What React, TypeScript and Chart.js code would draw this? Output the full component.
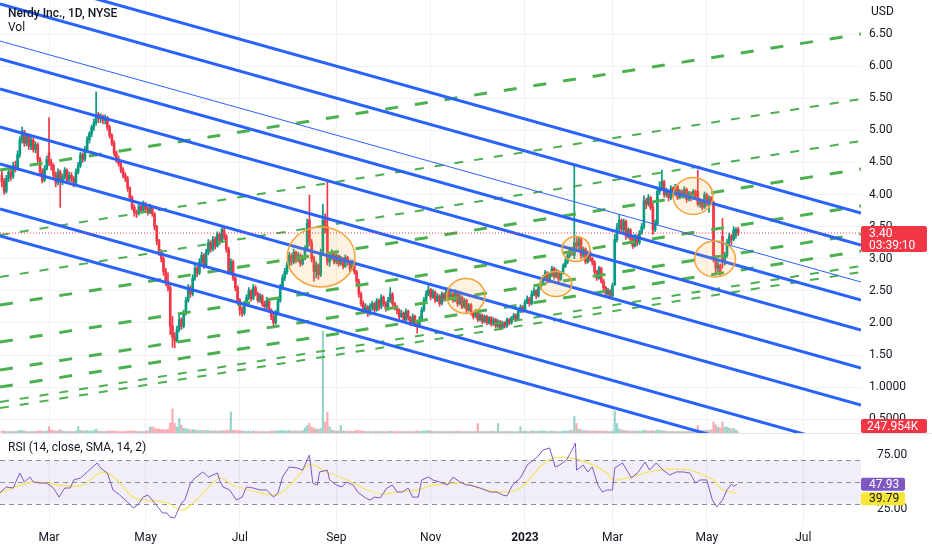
import React, { useEffect, useRef } from "react";
import { Chart, registerables } from "chart.js";

Chart.register(...registerables);

const FONT = "Roboto, 'Liberation Sans', Arial, sans-serif";
const UP = "#089981";
const DOWN = "#f23645";
const BLUE = "#2962ff";
const GREEN = "#4caf50";
const TEXT = "#131722";

// Daily candles, one named array per month: [open, high, low, close, volume (millions)]
const janFeb22 = [
  [4.30,4.38,4.12,4.20,0.4],[4.20,4.25,4.00,4.05,0.4],[4.05,4.30,4.02,4.25,0.3],[4.25,4.42,4.20,4.35,0.3],
  [4.35,4.40,4.22,4.28,0.3],[4.28,4.50,4.25,4.45,0.3],[4.45,4.52,4.35,4.40,0.3],[4.40,4.68,4.38,4.62,0.4],
  [4.62,4.90,4.58,4.85,0.5],[4.85,5.05,4.80,4.98,0.5],[4.98,5.00,4.75,4.80,0.4],[4.80,4.95,4.76,4.92,0.3],
  [4.92,4.94,4.70,4.75,0.3],[4.75,4.90,4.70,4.85,0.3],[4.85,4.88,4.66,4.70,0.3],[4.70,4.82,4.65,4.78,0.3],
  [4.78,4.80,4.50,4.55,0.4],[4.55,4.58,4.30,4.35,0.4],[4.35,4.40,4.18,4.22,0.4],[4.22,4.45,4.20,4.40,0.3],
  [4.40,4.60,4.38,4.55,0.4],
];
const mar22 = [
  [4.65,5.20,4.45,4.50,1.3],[4.50,4.55,4.38,4.45,0.6],[4.45,4.48,4.25,4.30,0.5],[4.30,4.35,4.12,4.18,0.4],
  [4.18,4.40,4.15,4.35,0.4],[4.35,4.38,3.80,4.20,0.7],[4.20,4.32,4.15,4.28,0.4],[4.28,4.42,4.24,4.38,0.3],
  [4.38,4.40,4.18,4.22,0.3],[4.22,4.35,4.18,4.30,0.3],[4.30,4.34,4.20,4.25,0.3],[4.25,4.28,4.12,4.18,0.3],
  [4.18,4.40,4.16,4.35,0.4],[4.35,4.50,4.32,4.45,1.3],[4.45,4.66,4.42,4.62,0.5],[4.62,4.65,4.50,4.55,0.4],
  [4.55,4.75,4.52,4.70,0.4],[4.70,4.90,4.68,4.85,0.5],[4.85,4.98,4.80,4.95,0.4],[4.95,5.08,4.90,5.05,0.4],
  [5.05,5.18,5.00,5.12,0.5],[5.12,5.60,5.08,5.25,0.8],[5.25,5.28,5.12,5.18,0.4],
];
const apr22 = [
  [5.18,5.26,5.12,5.22,0.3],[5.22,5.24,5.10,5.15,0.3],[5.15,5.24,5.10,5.20,0.3],[5.20,5.22,5.00,5.05,0.4],
  [5.05,5.08,4.88,4.92,0.4],[4.92,4.95,4.76,4.80,0.4],[4.80,4.84,4.60,4.65,0.4],[4.65,4.68,4.50,4.55,0.3],
  [4.55,4.60,4.44,4.48,0.3],[4.48,4.52,4.34,4.38,0.3],[4.38,4.42,4.26,4.30,0.3],[4.30,4.34,4.20,4.25,0.3],
  [4.25,4.28,4.05,4.10,0.4],[4.10,4.12,3.90,3.95,0.4],[3.95,3.98,3.76,3.80,0.4],[3.80,3.84,3.66,3.72,0.4],
  [3.72,3.76,3.64,3.70,0.3],[3.70,3.88,3.68,3.82,0.3],[3.82,3.86,3.72,3.75,0.3],[3.75,3.90,3.72,3.85,0.3],
];
const may22 = [
  [3.85,3.88,3.74,3.78,0.4],[3.78,3.80,3.68,3.72,0.4],[3.72,3.85,3.70,3.80,1.2],[3.80,3.82,3.66,3.70,1.3],
  [3.70,3.72,3.45,3.50,1.0],[3.50,3.52,3.22,3.28,0.8],[3.28,3.30,3.05,3.10,0.8],[3.10,3.14,2.95,3.00,0.7],
  [3.00,3.03,2.74,2.80,0.7],[2.80,2.85,2.58,2.65,0.6],[2.65,2.78,2.50,2.55,0.8],[2.55,2.58,1.82,1.95,2.0],
  [1.95,2.10,1.62,1.78,4.8],[1.78,1.85,1.61,1.72,1.9],[1.72,1.95,1.70,1.90,1.2],[1.90,2.12,1.86,2.05,2.9],
  [2.05,2.08,1.90,1.95,1.6],[1.95,2.20,1.92,2.15,1.0],[2.15,2.40,2.12,2.35,0.8],[2.35,2.60,2.32,2.55,0.8],
  [2.55,2.58,2.40,2.45,0.6],
];
const jun22 = [
  [2.45,2.75,2.42,2.70,0.7],[2.70,2.90,2.66,2.85,0.6],[2.85,2.88,2.72,2.78,0.5],[2.78,3.00,2.75,2.95,0.5],
  [2.95,3.10,2.90,3.05,0.5],[3.05,3.08,2.85,2.90,0.5],[2.90,3.15,2.88,3.10,0.5],[3.10,3.30,3.06,3.25,0.5],
  [3.25,3.28,3.10,3.15,0.4],[3.15,3.35,3.12,3.30,0.4],[3.30,3.34,3.15,3.20,0.4],[3.20,3.42,3.18,3.38,0.4],
  [3.38,3.40,3.22,3.28,0.4],[3.28,3.48,3.25,3.45,0.5],[3.45,3.48,3.30,3.35,0.4],[3.35,3.38,3.10,3.15,0.5],
  [3.15,3.18,2.76,2.80,0.6],[2.78,3.00,2.75,2.95,4.2],[2.95,2.98,2.66,2.70,0.6],[2.70,2.72,2.50,2.55,0.5],
  [2.55,2.58,2.30,2.35,0.5],
];
const jul22 = [
  [2.35,2.38,2.12,2.20,0.5],[2.20,2.25,2.10,2.15,0.4],[2.15,2.34,2.12,2.30,0.4],[2.30,2.44,2.28,2.40,0.3],
  [2.40,2.55,2.36,2.50,0.4],[2.50,2.52,2.34,2.38,0.3],[2.38,2.60,2.36,2.55,0.4],[2.55,2.58,2.42,2.45,0.3],
  [2.45,2.48,2.32,2.35,0.3],[2.35,2.46,2.32,2.42,0.3],[2.42,2.44,2.26,2.30,0.3],[2.30,2.34,2.20,2.25,0.3],
  [2.25,2.40,2.22,2.35,0.3],[2.35,2.37,2.16,2.20,0.3],[2.20,2.22,2.05,2.10,0.4],[2.10,2.15,1.92,2.00,0.4],
  [2.00,2.20,1.98,2.15,0.4],[2.15,2.40,2.12,2.35,0.4],[2.35,2.60,2.32,2.55,0.5],[2.55,2.75,2.52,2.70,0.5],
];
const aug22 = [
  [2.70,2.85,2.66,2.80,0.5],[2.80,2.95,2.76,2.90,0.4],[2.90,3.10,2.86,3.05,0.5],[3.05,3.08,2.90,2.95,0.4],
  [2.95,3.15,2.92,3.10,0.4],[3.10,3.12,2.94,2.98,0.4],[2.98,3.10,2.95,3.05,0.4],[3.05,3.08,2.88,2.92,0.4],
  [2.92,3.05,2.90,3.00,0.5],[3.00,3.20,2.98,3.15,1.0],[3.15,3.62,3.12,3.55,1.5],[3.60,3.99,3.20,3.25,1.9],
  [3.25,3.30,2.95,3.00,1.2],[3.00,3.04,2.65,2.80,0.9],[2.80,2.95,2.70,2.90,0.8],[2.90,2.92,2.68,2.75,0.7],
  [2.75,3.15,2.72,3.10,0.9],[3.10,3.85,3.05,3.60,20.4],[3.60,3.70,3.40,3.45,2.2],[3.50,4.20,2.90,2.95,4.2],
  [2.95,3.10,2.88,3.05,1.2],[3.05,3.14,2.98,3.10,0.6],[3.10,3.12,2.92,2.95,0.5],
];
const sep22 = [
  [2.95,3.08,2.92,3.05,0.4],[3.05,3.06,2.88,2.92,0.4],[2.92,3.04,2.90,3.00,1.5],[3.00,3.02,2.84,2.88,0.4],
  [2.88,3.06,2.86,3.02,0.4],[3.02,3.04,2.90,2.95,0.3],[2.95,2.98,2.80,2.85,0.4],[2.85,2.98,2.82,2.95,0.3],
  [2.95,2.97,2.76,2.80,0.4],[2.80,2.82,2.60,2.65,0.5],[2.65,2.68,2.40,2.45,0.5],[2.45,2.48,2.26,2.30,0.4],
  [2.30,2.34,2.15,2.20,0.4],[2.20,2.30,2.16,2.25,0.3],[2.25,2.27,2.10,2.15,0.3],[2.15,2.30,2.12,2.25,0.3],
  [2.25,2.34,2.20,2.30,0.3],[2.30,2.32,2.16,2.20,0.3],[2.20,2.38,2.18,2.35,0.3],[2.35,2.37,2.20,2.25,0.3],
  [2.25,2.44,2.22,2.40,0.3],
];
const oct22 = [
  [2.40,2.42,2.26,2.30,0.3],[2.30,2.33,2.18,2.22,0.3],[2.22,2.40,2.20,2.35,0.3],[2.35,2.55,2.32,2.45,0.4],
  [2.45,2.47,2.26,2.30,0.3],[2.30,2.32,2.20,2.25,0.3],[2.25,2.27,2.14,2.20,0.3],[2.20,2.22,2.06,2.10,0.3],
  [2.10,2.20,2.08,2.15,0.3],[2.15,2.17,2.02,2.05,0.3],[2.05,2.22,2.03,2.18,0.3],[2.18,2.20,2.04,2.08,0.3],
  [2.08,2.10,1.96,2.00,0.3],[2.00,2.14,1.98,2.10,0.3],[2.10,2.12,1.94,1.98,0.3],[1.98,2.02,1.84,1.95,0.4],
  [1.95,2.10,1.93,2.05,0.3],[2.05,2.24,2.02,2.20,0.4],[2.20,2.40,2.18,2.35,0.4],[2.35,2.50,2.32,2.45,0.4],
  [2.45,2.62,2.42,2.52,0.5],
];
const nov22 = [
  [2.52,2.54,2.36,2.40,0.4],[2.40,2.52,2.38,2.48,0.3],[2.48,2.50,2.32,2.35,0.3],[2.35,2.46,2.33,2.42,0.3],
  [2.42,2.44,2.26,2.30,0.3],[2.30,2.48,2.28,2.45,0.3],[2.45,2.47,2.34,2.38,0.3],[2.38,2.55,2.36,2.50,0.3],
  [2.50,2.52,2.36,2.40,0.3],[2.40,2.50,2.38,2.45,0.3],[2.45,2.47,2.32,2.35,0.3],[2.35,2.52,2.33,2.48,0.3],
  [2.48,2.50,2.26,2.30,0.4],[2.30,2.44,2.28,2.40,0.3],[2.40,2.42,2.22,2.25,0.3],[2.25,2.38,2.23,2.35,0.3],
  [2.35,2.37,2.16,2.20,0.3],[2.20,2.30,2.18,2.28,0.3],[2.28,2.30,2.12,2.15,0.3],[2.15,2.17,2.06,2.10,0.3],
  [2.10,2.21,2.08,2.18,0.3],
];
const dec22 = [
  [2.18,2.20,2.02,2.05,1.9],[2.05,2.15,2.03,2.12,0.3],[2.12,2.14,1.99,2.02,0.3],[2.02,2.12,2.00,2.10,0.3],
  [2.10,2.12,1.97,2.00,0.3],[2.00,2.10,1.98,2.08,0.3],[2.08,2.10,1.95,1.98,0.4],[1.98,2.08,1.96,2.05,0.3],
  [2.05,2.07,1.92,1.95,0.3],[1.95,2.05,1.93,2.02,1.9],[2.02,2.04,1.89,1.92,0.3],[1.92,2.03,1.90,2.00,0.3],
  [2.00,2.02,1.92,1.95,0.3],[1.95,2.08,1.93,2.05,0.3],[2.05,2.07,1.97,2.00,0.3],[2.00,2.10,1.98,2.08,0.3],
  [2.08,2.15,2.05,2.12,0.3],[2.12,2.14,2.02,2.05,0.3],[2.05,2.22,2.04,2.18,0.3],[2.18,2.28,2.16,2.25,1.3],
  [2.25,2.27,2.16,2.20,0.3],
];
const jan23 = [
  [2.20,2.36,2.18,2.32,0.4],[2.32,2.42,2.30,2.38,0.3],[2.38,2.40,2.26,2.30,0.3],[2.30,2.50,2.28,2.45,0.4],
  [2.45,2.55,2.42,2.50,0.4],[2.50,2.52,2.38,2.42,0.3],[2.42,2.60,2.40,2.55,0.4],[2.55,2.66,2.52,2.62,0.4],
  [2.62,2.74,2.60,2.70,0.4],[2.70,2.82,2.66,2.78,0.4],[2.78,2.80,2.62,2.65,0.3],[2.65,2.78,2.63,2.75,0.3],
  [2.75,2.88,2.72,2.85,0.4],[2.85,2.87,2.68,2.72,0.3],[2.72,2.84,2.70,2.80,0.3],[2.80,2.82,2.64,2.68,0.3],
  [2.68,2.80,2.66,2.78,0.3],[2.78,2.92,2.76,2.88,0.4],[2.88,3.00,2.86,2.95,0.4],[2.95,3.10,2.92,3.05,0.4],
];
const feb23 = [
  [3.05,3.18,3.02,3.15,0.5],[3.15,3.18,3.05,3.10,0.5],[3.05,4.45,3.00,3.25,3.3],[3.25,3.35,3.15,3.20,1.9],
  [3.20,3.34,3.12,3.30,0.8],[3.30,3.32,3.00,3.05,0.6],[3.05,3.18,3.02,3.15,0.5],[3.15,3.17,2.92,2.95,0.5],
  [2.95,3.12,2.93,3.10,0.4],[3.10,3.12,2.96,3.00,0.4],[3.00,3.02,2.90,2.95,0.4],[2.95,2.97,2.76,2.80,0.4],
  [2.80,2.82,2.66,2.70,0.4],[2.70,2.88,2.68,2.85,0.4],[2.85,2.87,2.62,2.65,0.4],[2.65,2.68,2.50,2.55,0.4],
  [2.55,2.57,2.40,2.45,0.4],[2.45,2.54,2.43,2.50,0.3],[2.50,2.52,2.38,2.42,0.3],
];
const mar23 = [
  [2.42,2.62,2.40,2.58,0.4],[2.60,3.38,2.58,3.30,4.4],[3.30,3.55,3.26,3.48,1.9],[3.48,3.68,3.44,3.60,0.8],
  [3.60,3.62,3.40,3.45,0.6],[3.45,3.62,3.42,3.58,0.5],[3.58,3.60,3.30,3.35,0.5],[3.35,3.48,3.32,3.45,0.4],
  [3.45,3.47,3.24,3.30,0.4],[3.30,3.33,3.16,3.20,0.4],[3.20,3.38,3.18,3.35,0.4],[3.35,3.37,3.20,3.25,0.4],
  [3.25,3.44,3.22,3.40,0.4],[3.40,3.55,3.38,3.50,0.4],[3.50,3.98,3.46,3.90,0.6],[3.90,3.94,3.78,3.85,0.5],
  [3.85,4.00,3.82,3.95,0.4],[3.95,3.97,3.76,3.80,0.4],[3.80,3.86,3.38,3.45,0.5],[3.45,3.60,3.42,3.55,0.4],
  [3.55,4.10,3.52,4.05,0.6],[4.05,4.20,4.00,4.10,0.5],[4.10,4.38,4.06,4.20,0.5],
];
const apr23 = [
  [4.20,4.22,3.96,4.00,0.4],[4.00,4.10,3.96,4.05,0.4],[4.05,4.07,3.90,3.95,0.3],[3.95,4.14,3.92,4.10,0.3],
  [4.10,4.12,3.96,4.00,0.3],[4.00,4.16,3.98,4.12,0.3],[4.12,4.14,3.92,3.95,0.3],[3.95,4.08,3.93,4.05,0.3],
  [4.05,4.07,3.96,4.00,0.3],[4.00,4.12,3.98,4.08,0.3],[4.08,4.10,3.88,3.92,0.3],[3.92,4.05,3.90,4.02,0.3],
  [4.02,4.04,3.90,3.95,0.3],[3.95,4.08,3.93,4.05,0.3],[4.05,4.07,3.94,3.98,0.3],[4.05,4.38,3.82,3.85,1.5],
  [3.85,3.94,3.80,3.90,0.5],[3.90,3.92,3.76,3.80,0.5],[3.80,4.04,3.78,4.00,0.5],
];
const may23 = [
  [4.00,4.02,3.82,3.85,0.5],[3.85,3.98,3.72,3.95,0.5],[3.95,3.97,3.84,3.88,0.6],[3.88,3.90,2.95,3.00,2.2],
  [3.00,3.05,2.78,2.85,1.6],[2.85,2.95,2.80,2.90,1.2],[2.90,2.92,2.74,2.80,1.0],[3.35,3.63,2.85,2.95,2.2],
  [2.95,3.10,2.90,3.05,1.2],[3.05,3.30,3.02,3.25,1.2],[3.25,3.40,3.20,3.35,1.0],[3.35,3.38,3.22,3.30,0.8],
  [3.30,3.50,3.28,3.45,0.9],[3.38,3.48,3.32,3.46,0.6],[3.46,3.49,3.36,3.40,0.247954],
];

// Trading-day index of the first candle (0 = 1 Mar 2022)
const FIRST_DAY = -21;

// Month axis: trading-day index and label
const monthTicks = [0, 43, 85, 128, 170, 212, 251, 293, 336];
const monthLabels = ["Mar", "May", "Jul", "Sep", "Nov", "2023", "Mar", "May", "Jul"];
const priceTicks = [0.5, 1, 1.5, 2, 2.5, 3, 3.5, 4, 4.5, 5, 5.5, 6, 6.5];
const rsiTicks = [25, 75];
const rsiLevels = [70, 50, 30];

// Visible range
const VIEW_FROM = -21.83;
const VIEW_TO = 361.7;
const PRICE_MIN = 0.285;
const PRICE_MAX = 7.03;
const VOL_MAX = 86.6;
const RSI_MIN = 8.33;
const RSI_MAX = 95.37;

// Drawn trend lines: price at the left edge and at the right edge of the view
const blueStart = [7.466, 6.967, 6.391, 6.111, 5.643, 5.051, 4.475, 3.774, 3.354];
const blueEnd = [3.712, 3.213, 2.637, 2.357, 1.889, 1.297, 0.721, 0.02, -0.4];
const blueThin = [false, false, true, false, false, false, false, false, false];
const greenStart = [4.382, 3.369, 2.715, 2.279, 1.703, 1.266, 1.002, 0.768, 0.674];
const greenEnd = [6.5, 5.488, 4.833, 4.397, 3.821, 3.385, 3.12, 2.886, 2.793];
const greenThick = [true, false, false, true, true, true, true, false, false];

// Highlight ellipses: centre (day, price) and half-extent (days, price)
const ellipseDay = [121.2, 185.7, 225.8, 234.7, 286.9, 296.7];
const ellipsePrice = [3.027, 2.419, 2.606, 3.151, 3.977, 2.995];
const ellipseHalfDays = [15.1, 8.5, 7.1, 6.2, 8.9, 9.1];
const ellipseHalfPrice = [0.467, 0.273, 0.195, 0.195, 0.288, 0.28];

// RSI (14) and its SMA (14)
const rsiDays = [-22,-19,-16,-13,-11,-8.5,-7,-4,-1,2,4.5,7,9.5,11,14,17,19,21.5,23,26,28.5,31.5,35,37.5,39.5,42,44,46,48.5,50.5,52.5,54,56,57.5,59,60.5,63,65,68.5,71,75,76,77.5,80.5,83.5,86,88,91,94,97,100,102,104,107,110.5,113,116,117.5,119.5,120.5,124,125,128,130.5,132.5,135.5,137.5,141,143,145,147.5,150.5,153,155,157.5,160,162,164.5,166,169,171,174,177.5,180,183,186,187.5,192,196.5,199.5,202,204,206.5,210,213,217.5,220,223,225.5,227.5,230.5,233,234.5,235,238,240,242,244.5,246.5,248.5,251,252,255.5,259.5,262.5,265.5,267.5,270.5,273.5,276.5,279.5,282.5,285.5,288,290,293,295.5,297.5,300,302,304,305,306.5];
const rsiValues = [39.8,45.4,44.4,58.3,50,54.6,50,49,49,44.4,36,44.4,44.4,51.9,53.7,59.3,63,67.6,63,58.3,42.6,38,31.5,25.9,28.7,36,38,33.3,26.9,21.3,21.3,17.6,16.7,24,30.6,33.3,49,53.7,59.3,54.6,58.3,51.9,45.4,42.6,33.3,36,45.4,44.4,42.6,42.6,36,39.8,54.6,63.9,63,61,75,49,47.2,59.3,61,51.9,47.2,45.4,50,47.2,40.7,35.2,33.3,36,35.2,44.4,47.2,40.7,40.7,44.4,36,36,51.9,54.6,51.9,50,47.2,54.6,50,47.2,47.2,44.4,40.7,40.7,38,37,47.2,53.7,65.7,73.1,79.6,81.5,63.9,65.7,70.4,79.6,86,61,65.7,59.3,63.9,47.2,40.7,42.6,42.6,63,67.6,53.7,59.3,68.5,61,67.6,61,56.5,59.3,59.3,58.3,49,51.9,51.9,33.3,26.9,33.3,42.6,48.1,46,47.93];
const smaDays = [-22,-7,5,15,23,28.5,37.5,43.5,52.5,59.5,67,76,82,92.5,101.5,108.7,116,123.8,132.7,141.7,148.8,156.4,164,171,183,186.2,192,202.2,208.5,213,218.7,224.5,233.4,242.3,248.6,251.2,257.5,266.4,278,285.5,291.4,295.8,300.2,306.5];
const smaValues = [40,50,47,47,59,55,36,33,31,24,36,53.7,47,40.7,38,50,66,59,52,42.6,39,41,42.6,47,49,48,44,40.7,42.6,50,63.9,72,72,65.7,58.3,52,53.7,59,61.9,61,56.5,52,42.6,39.79];

const COUNTDOWN = "03:39:10";

function roundRect(ctx: CanvasRenderingContext2D, x: number, y: number, w: number, h: number, r: number) {
  ctx.beginPath();
  ctx.moveTo(x + r, y);
  ctx.lineTo(x + w - r, y);
  ctx.quadraticCurveTo(x + w, y, x + w, y + r);
  ctx.lineTo(x + w, y + h - r);
  ctx.quadraticCurveTo(x + w, y + h, x + w - r, y + h);
  ctx.lineTo(x + r, y + h);
  ctx.quadraticCurveTo(x, y + h, x, y + h - r);
  ctx.lineTo(x, y + r);
  ctx.quadraticCurveTo(x, y, x + r, y);
  ctx.closePath();
}

export default function App() {
  const mainRef = useRef<HTMLCanvasElement>(null);
  const rsiRef = useRef<HTMLCanvasElement>(null);

  useEffect(() => {
    document.body.style.margin = "0";
    const candles = [
      ...janFeb22, ...mar22, ...apr22, ...may22, ...jun22, ...jul22, ...aug22, ...sep22,
      ...oct22, ...nov22, ...dec22, ...jan23, ...feb23, ...mar23, ...apr23, ...may23,
    ];
    const isUp = candles.map((c) => c[3] >= c[0]);
    const candleColors = isUp.map((u) => (u ? UP : DOWN));
    const volColors = isUp.map((u) => (u ? "rgba(8,153,129,0.42)" : "rgba(242,54,69,0.42)"));
    const wickData = candles.map((c, k) => ({ x: FIRST_DAY + k, y: [c[2], c[1]] }));
    const bodyData = candles.map((c, k) => ({ x: FIRST_DAY + k, y: [c[0], c[3]] }));
    const volData = candles.map((c, k) => ({ x: FIRST_DAY + k, y: c[4] }));
    const last = candles[candles.length - 1];
    const lastClose = last[3];
    const lastColor = last[3] >= last[0] ? UP : DOWN;
    const volLabel = (last[4] * 1000).toFixed(3) + "K";

    const lineSets: any[] = [];
    blueStart.forEach((p0, k) => {
      lineSets.push({
        type: "line",
        data: [{ x: VIEW_FROM, y: p0 }, { x: VIEW_TO, y: blueEnd[k] }],
        borderColor: BLUE,
        borderWidth: blueThin[k] ? 1 : 3,
        pointRadius: 0,
        tension: 0,
        clip: 0,
        order: 5,
      });
    });
    greenStart.forEach((p0, k) => {
      lineSets.push({
        type: "line",
        data: [{ x: VIEW_FROM, y: p0 }, { x: VIEW_TO, y: greenEnd[k] }],
        borderColor: GREEN,
        borderWidth: greenThick[k] ? 3 : 2,
        borderDash: greenThick[k] ? [13, 17] : [9, 11],
        pointRadius: 0,
        tension: 0,
        clip: 0,
        order: 6,
      });
    });
    lineSets.push({
      type: "line",
      data: [{ x: VIEW_FROM, y: lastClose }, { x: VIEW_TO, y: lastClose }],
      borderColor: lastColor,
      borderWidth: 1,
      borderDash: [1, 2],
      pointRadius: 0,
      clip: 0,
      order: 4,
    });

    const ellipsePlugin = {
      id: "ellipses",
      afterDatasetsDraw(chart: any) {
        const { ctx, chartArea, scales } = chart;
        const xs = scales.x;
        const ys = scales.y;
        ctx.save();
        ctx.beginPath();
        ctx.rect(chartArea.left, chartArea.top, chartArea.right - chartArea.left, chartArea.bottom - chartArea.top);
        ctx.clip();
        ellipseDay.forEach((d, k) => {
          const cx = xs.getPixelForValue(d);
          const cy = ys.getPixelForValue(ellipsePrice[k]);
          const rx = Math.abs(xs.getPixelForValue(d + ellipseHalfDays[k]) - cx);
          const ry = Math.abs(ys.getPixelForValue(ellipsePrice[k] + ellipseHalfPrice[k]) - cy);
          ctx.beginPath();
          ctx.ellipse(cx, cy, rx, ry, 0, 0, Math.PI * 2);
          ctx.fillStyle = "rgba(255,160,40,0.14)";
          ctx.fill();
          ctx.strokeStyle = "#f2a33a";
          ctx.lineWidth = 1.5;
          ctx.stroke();
        });
        ctx.restore();
      },
      afterDraw(chart: any) {
        const { ctx, chartArea, scales } = chart;
        const py = scales.y.getPixelForValue(lastClose);
        const left = chartArea.right;
        ctx.save();
        ctx.fillStyle = lastColor;
        roundRect(ctx, left, py - 7, 66, 26, 2);
        ctx.fill();
        ctx.fillStyle = "#ffffff";
        ctx.font = `12px ${FONT}`;
        ctx.textAlign = "left";
        ctx.textBaseline = "middle";
        ctx.fillText(lastClose.toFixed(2), left + 8, py + 0.5);
        ctx.fillText(COUNTDOWN, left + 8, py + 12.5);
        ctx.fillStyle = lastColor;
        roundRect(ctx, left, chartArea.bottom - 14, 66, 14, 2);
        ctx.fill();
        ctx.fillStyle = "#ffffff";
        ctx.fillText(volLabel, left + 6, chartArea.bottom - 6.5);
        ctx.restore();
      },
    };

    const main = new Chart(mainRef.current as HTMLCanvasElement, {
      type: "bar",
      data: {
        datasets: [
          { type: "bar", data: volData, yAxisID: "yVol", backgroundColor: volColors, barThickness: 1.5, grouped: false, order: 30 },
          { type: "bar", data: wickData, yAxisID: "y", backgroundColor: candleColors, barThickness: 1, grouped: false, order: 20 },
          { type: "bar", data: bodyData, yAxisID: "y", backgroundColor: candleColors, barThickness: 2, minBarLength: 1, grouped: false, order: 19 },
          ...lineSets,
        ] as any,
      },
      options: {
        animation: false,
        responsive: false,
        events: [],
        layout: { padding: 0 },
        plugins: { legend: { display: false }, tooltip: { enabled: false } },
        scales: {
          x: {
            type: "linear",
            min: VIEW_FROM,
            max: VIEW_TO,
            offset: false,
            afterBuildTicks: (s: any) => { s.ticks = monthTicks.map((v) => ({ value: v })); },
            afterFit: (s: any) => { s.height = 0; s.paddingLeft = 0; s.paddingRight = 0; },
            grid: { color: "#eff1f5", drawTicks: false, offset: false },
            border: { display: false },
            ticks: { display: false },
          },
          y: {
            type: "linear",
            position: "right",
            min: PRICE_MIN,
            max: PRICE_MAX,
            afterBuildTicks: (s: any) => { s.ticks = priceTicks.map((v) => ({ value: v })); },
            afterFit: (s: any) => { s.width = 71; s.paddingTop = 0; s.paddingBottom = 0; },
            grid: { color: "#f0f2f6", drawTicks: false },
            border: { display: false },
            ticks: {
              padding: 8,
              color: TEXT,
              font: { family: FONT, size: 12 },
              callback: (v: any) => (Number(v) >= 1.5 ? Number(v).toFixed(2) : Number(v).toFixed(4)),
            },
          },
          yVol: { type: "linear", display: false, min: 0, max: VOL_MAX },
        },
      } as any,
      plugins: [ellipsePlugin],
    });

    const rsiPlugin = {
      id: "rsiBand",
      beforeDatasetsDraw(chart: any) {
        const { ctx, chartArea, scales } = chart;
        const ys = scales.y;
        const top = ys.getPixelForValue(rsiLevels[0]);
        const bottom = ys.getPixelForValue(rsiLevels[2]);
        ctx.save();
        ctx.fillStyle = "rgba(126,87,194,0.1)";
        ctx.fillRect(chartArea.left, top, chartArea.right - chartArea.left, bottom - top);
        ctx.strokeStyle = "#8a8d96";
        ctx.lineWidth = 1;
        ctx.setLineDash([5, 4]);
        rsiLevels.forEach((lv) => {
          const py = Math.round(ys.getPixelForValue(lv)) + 0.5;
          ctx.beginPath();
          ctx.moveTo(chartArea.left, py);
          ctx.lineTo(chartArea.right, py);
          ctx.stroke();
        });
        ctx.restore();
      },
      afterDraw(chart: any) {
        const { ctx, chartArea, scales, width } = chart;
        const ys = scales.y;
        const left = chartArea.right;
        ctx.save();
        ctx.strokeStyle = "#e0e3eb";
        ctx.lineWidth = 1;
        ctx.beginPath();
        ctx.moveTo(0, 0.5);
        ctx.lineTo(width, 0.5);
        ctx.stroke();
        const rsiLast = rsiValues[rsiValues.length - 1];
        const smaLast = smaValues[smaValues.length - 1];
        const py1 = ys.getPixelForValue(rsiLast);
        ctx.fillStyle = "#7e57c2";
        roundRect(ctx, left, py1 - 6.5, 44, 13, 2);
        ctx.fill();
        const py2 = Math.max(ys.getPixelForValue(smaLast), py1 + 14.5);
        ctx.fillStyle = "#f7e634";
        roundRect(ctx, left, py2 - 6.5, 44, 13, 2);
        ctx.fill();
        ctx.font = `12px ${FONT}`;
        ctx.textAlign = "left";
        ctx.textBaseline = "middle";
        ctx.fillStyle = "#ffffff";
        ctx.fillText(rsiLast.toFixed(2), left + 8, py1 + 0.5);
        ctx.fillStyle = TEXT;
        ctx.fillText(smaLast.toFixed(2), left + 8, py2 + 0.5);
        ctx.restore();
      },
    };

    const rsi = new Chart(rsiRef.current as HTMLCanvasElement, {
      type: "line",
      data: {
        datasets: [
          {
            data: rsiDays.map((d, k) => ({ x: d, y: rsiValues[k] })),
            borderColor: "#7e57c2",
            borderWidth: 1,
            pointRadius: 0,
            tension: 0,
            clip: 0,
            order: 1,
          },
          {
            data: smaDays.map((d, k) => ({ x: d, y: smaValues[k] })),
            borderColor: "#f3e66a",
            borderWidth: 1.3,
            pointRadius: 0,
            tension: 0.35,
            clip: 0,
            order: 2,
          },
        ] as any,
      },
      options: {
        animation: false,
        responsive: false,
        events: [],
        layout: { padding: 0 },
        plugins: { legend: { display: false }, tooltip: { enabled: false } },
        scales: {
          x: {
            type: "linear",
            min: VIEW_FROM,
            max: VIEW_TO,
            offset: false,
            afterBuildTicks: (s: any) => { s.ticks = monthTicks.map((v) => ({ value: v })); },
            afterFit: (s: any) => { s.height = 23; s.paddingLeft = 0; s.paddingRight = 0; },
            grid: { color: "#eff1f5", drawTicks: false, offset: false },
            border: { display: false },
            ticks: {
              autoSkip: false,
              maxRotation: 0,
              padding: 4,
              color: TEXT,
              font: (ctx: any) => ({
                family: FONT,
                size: 12,
                weight: ctx.tick && ctx.tick.value === monthTicks[5] ? "bold" : "normal",
              }),
              callback: (v: any) => {
                const k = monthTicks.indexOf(Number(v));
                return k >= 0 ? monthLabels[k] : "";
              },
            },
          },
          y: {
            type: "linear",
            position: "right",
            min: RSI_MIN,
            max: RSI_MAX,
            afterBuildTicks: (s: any) => { s.ticks = rsiTicks.map((v) => ({ value: v })); },
            afterFit: (s: any) => { s.width = 71; s.paddingTop = 0; s.paddingBottom = 0; },
            grid: { display: false },
            border: { display: false },
            ticks: {
              padding: 8,
              color: TEXT,
              font: { family: FONT, size: 12 },
              callback: (v: any) => Number(v).toFixed(2),
            },
          },
        },
      } as any,
      plugins: [rsiPlugin],
    });

    return () => {
      main.destroy();
      rsi.destroy();
    };
  }, []);

  const label: React.CSSProperties = {
    position: "absolute",
    fontFamily: FONT,
    fontSize: 12,
    lineHeight: "14px",
    color: TEXT,
    whiteSpace: "nowrap",
  };

  return (
    <div style={{ position: "relative", width: 932, height: 550, overflow: "hidden", background: "#ffffff" }}>
      <canvas ref={mainRef} width={932} height={433} style={{ position: "absolute", left: 0, top: 0, width: 932, height: 433 }} />
      <canvas ref={rsiRef} width={932} height={117} style={{ position: "absolute", left: 0, top: 433, width: 932, height: 117 }} />
      <div style={{ ...label, left: 8, top: 6, fontWeight: 500 }}>Nerdy Inc., 1D, NYSE</div>
      <div style={{ ...label, left: 8, top: 20 }}>Vol</div>
      <div style={{ ...label, left: 8, top: 440 }}>RSI (14, close, SMA, 14, 2)</div>
      <div style={{ ...label, left: 871, top: 4 }}>USD</div>
    </div>
  );
}
